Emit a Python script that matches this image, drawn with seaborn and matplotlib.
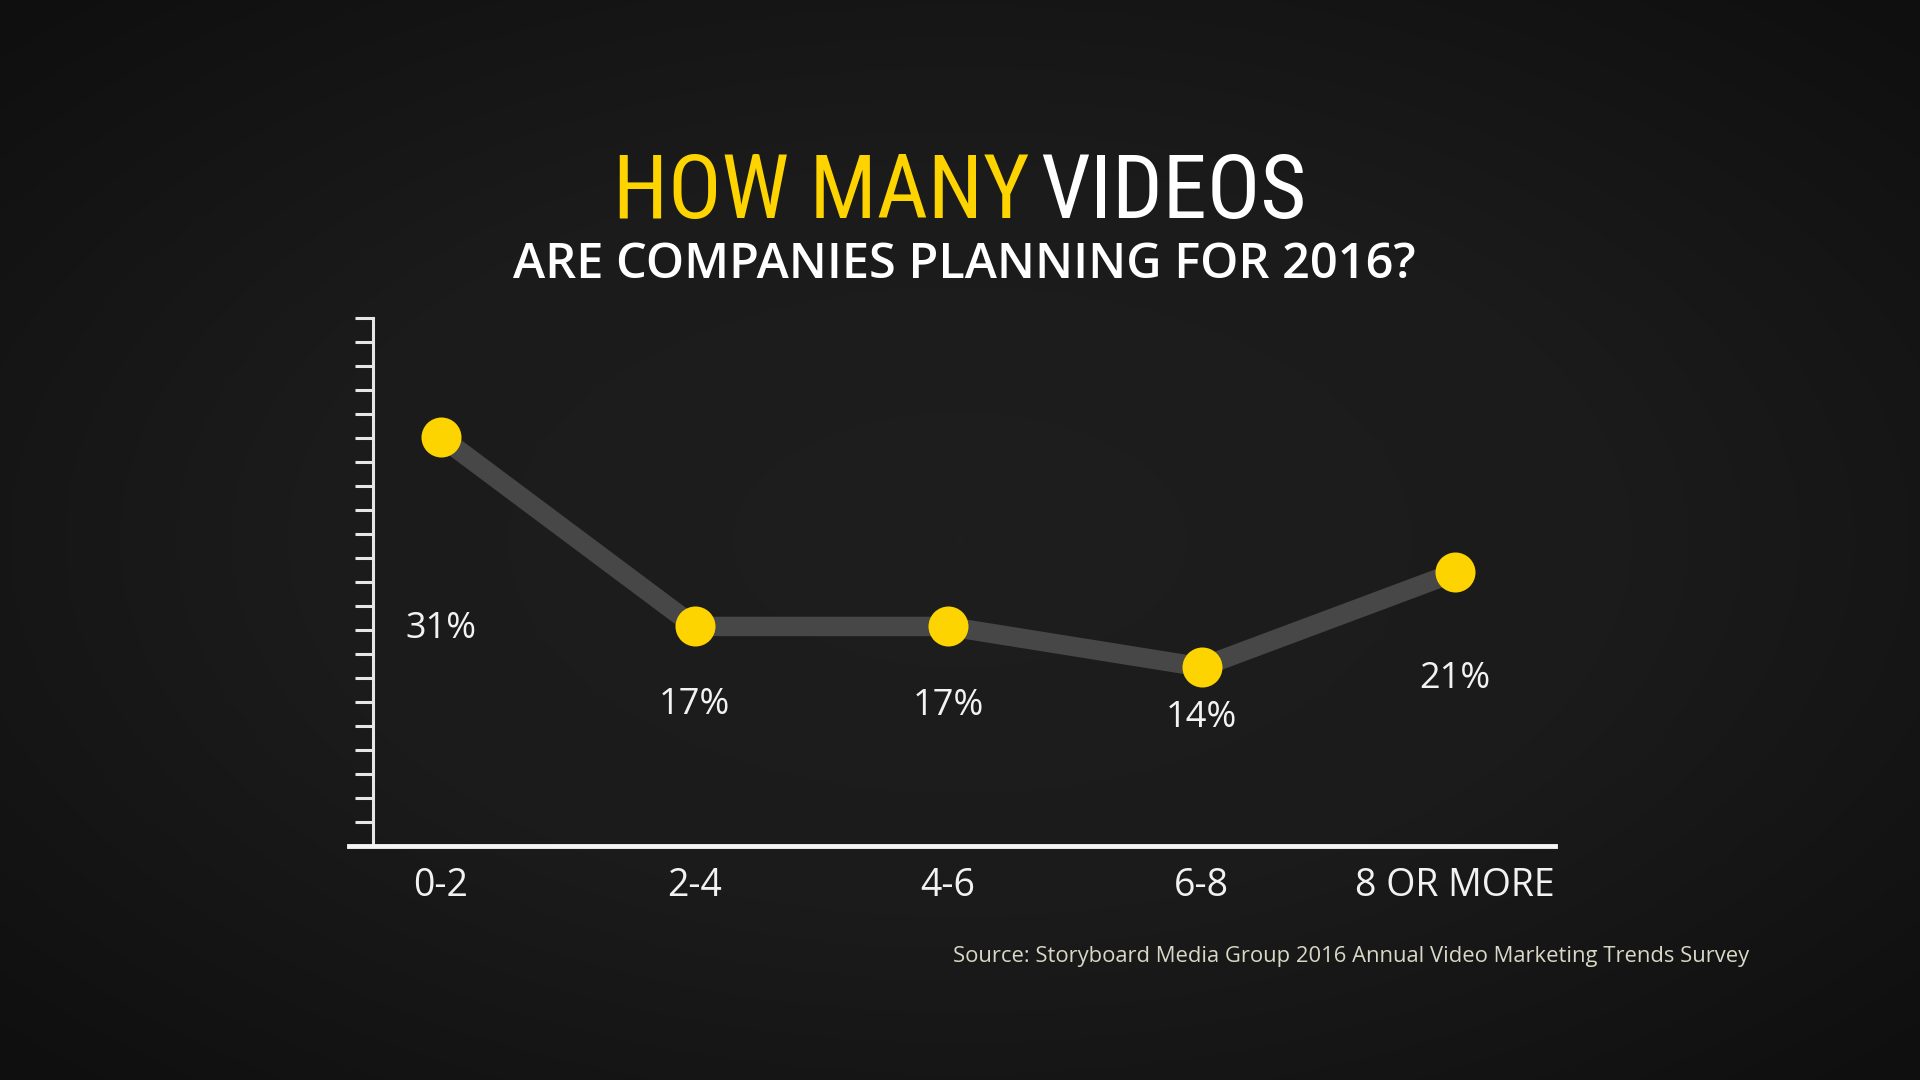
import numpy as np
import pandas as pd
import matplotlib.pyplot as plt
import matplotlib.font_manager as fm
from matplotlib.colors import LinearSegmentedColormap
import seaborn as sns

# Data
categories = ["0-2", "2-4", "4-6", "6-8", "8 OR MORE"]
share = [31, 17, 17, 14, 21]

title_yellow = "HOW MANY"
title_white = "VIDEOS"
subtitle = "ARE COMPANIES PLANNING FOR 2016?"
source = "Source: Storyboard Media Group 2016 Annual Video Marketing Trends Survey"

# Colours
YELLOW = "#FDD300"
LINE_GREY = "#474747"
TEXT = "#F2F2F2"
SOURCE_COL = "#D9D8C6"

# value labels sit below each point (offset in points, picked by eye)
label_dy = [-145, -63, -64, -43, -83]

sns.set_theme(style="white")

# the title is a thin condensed face; use one that is installed in a regular weight
thin_narrow = {f.name for f in fm.fontManager.ttflist
               if f.name in ("Open Sans Condensed", "Roboto Condensed", "Liberation Sans Narrow")
               and int(f.weight) <= 400}
narrow = next((n for n in ["Open Sans Condensed", "Roboto Condensed", "Liberation Sans Narrow"]
               if n in thin_narrow), None)
title_size = 64 if narrow else 52
title_family = [narrow or "Open Sans", "DejaVu Sans"]

plt.rcParams["font.family"] = ["Open Sans", "DejaVu Sans"]

fig = plt.figure(figsize=(19.2, 10.8), dpi=100)
fig.patch.set_facecolor("#141414")

# dark vignette background
bg = fig.add_axes([0, 0, 1, 1], zorder=0)
yy, xx = np.mgrid[-1:1:540j, -1:1:960j]
r = np.clip(np.sqrt(xx ** 2 + yy ** 2), 0, 1.4)
vign = LinearSegmentedColormap.from_list("vign", ["#1e1e1e", "#1b1b1b", "#0f0f0f"])
bg.imshow(r, cmap=vign, aspect="auto", interpolation="bilinear")
bg.set_axis_off()

# Main chart
ax = fig.add_axes([349 / 1920, 1 - 846 / 1080, 1206 / 1920, 528 / 1080], zorder=1)
ax.patch.set_alpha(0)

df = pd.DataFrame({"pos": range(len(categories)), "share": share})
sns.lineplot(data=df, x="pos", y="share", color=LINE_GREY, linewidth=14, ax=ax)
sns.scatterplot(data=df, x="pos", y="share", color=YELLOW, s=830, linewidth=0, ax=ax, zorder=3)

ax.set_xlim(-0.363, 4.394)
ax.set_ylim(0.77, 39.8)
ax.set_xlabel("")
ax.set_ylabel("")

for s in ["top", "right"]:
    ax.spines[s].set_visible(False)
ax.spines["bottom"].set_color("#F5F5F5")
ax.spines["bottom"].set_linewidth(3.5)
ax.spines["left"].set_color("#E6E6E6")
ax.spines["left"].set_linewidth(2.2)
ax.spines["left"].set_position(("axes", 0.02))

ax.set_yticks(np.linspace(0.77, 39.8, 23))
ax.tick_params(axis="y", left=True, length=13, width=2.2, color="#E6E6E6",
               direction="out", labelleft=False)
ax.set_xticks(range(len(categories)))
ax.set_xticklabels(categories)
ax.tick_params(axis="x", bottom=False, pad=9, labelsize=27, labelcolor=TEXT)

for i, v in enumerate(share):
    ax.annotate(f"{v}%", (i, v), xytext=(0, label_dy[i]), textcoords="offset points",
                ha="center", va="baseline", fontsize=26, color=TEXT)

# Titles
fig.text(1030 / 1920, 1 - 218 / 1080, title_yellow, ha="right", va="baseline",
         fontsize=title_size, fontweight="normal", color=YELLOW, family=title_family)
fig.text(1040 / 1920, 1 - 218 / 1080, title_white, ha="left", va="baseline",
         fontsize=title_size, fontweight="normal", color="white", family=title_family)
fig.text(964 / 1920, 1 - 278 / 1080, subtitle, ha="center", va="baseline",
         fontsize=35, fontweight="semibold", color="white")
fig.text(953 / 1920, 1 - 962 / 1080, source, ha="left", va="baseline",
         fontsize=15.8, color=SOURCE_COL)

fig.savefig("out.png", dpi=100, facecolor=fig.get_facecolor())
